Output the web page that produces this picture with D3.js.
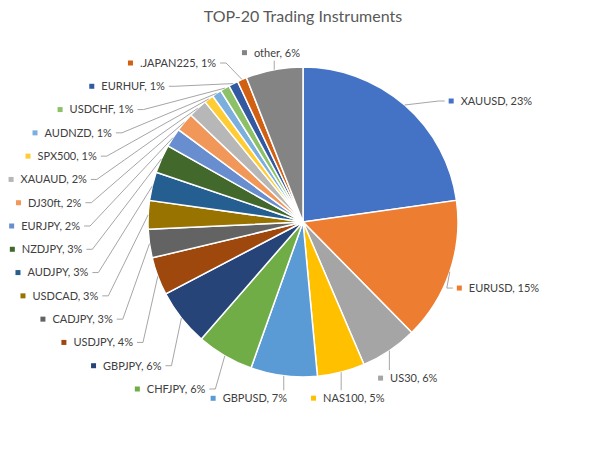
<!DOCTYPE html>
<html>
<head>
<meta charset="utf-8">
<script src="https://cdn.jsdelivr.net/npm/d3@7"></script>
<style>
  body { margin: 0; background: #fff; }
  text { font-family: Lato, "Open Sans", sans-serif; }
</style>
</head>
<body>
<div id="chart"></div>
<script>
"use strict";

// slices clockwise from 12 o'clock
var instruments = ["XAUUSD", "EURUSD", "US30", "NAS100", "GBPUSD", "CHFJPY", "GBPJPY",
                   "USDJPY", "CADJPY", "USDCAD", "AUDJPY", "NZDJPY", "EURJPY", "DJ30ft",
                   "XAUAUD", "SPX500", "AUDNZD", "USDCHF", "EURHUF", ".JAPAN225", "other"];
var shares = [23, 15, 6, 5, 7, 6, 6, 4, 3, 3, 3, 3, 2, 2, 2, 1, 1, 1, 1, 1, 6];
var sliceColors = ["#4472C4", "#ED7D31", "#A5A5A5", "#FFC000", "#5B9BD5", "#70AD47", "#264478",
                   "#9E480E", "#636363", "#997300", "#255E91", "#43682B", "#698ED0", "#F1975A",
                   "#B7B7B7", "#FFCD33", "#7CAFDD", "#8CC168", "#335AA1", "#D26012", "#848484"];

var width = 611, height = 471;
var cx = 303, cy = 222, radius = 155;
var markerSize = 5, markerGap = 7, boxH = 12;

var svg = d3.select("#chart").append("svg")
    .attr("width", width)
    .attr("height", height);

svg.append("text")
    .attr("x", cx)
    .attr("y", 22)
    .attr("text-anchor", "middle")
    .attr("font-size", 16)
    .attr("fill", "#595959")
    .text("TOP-20 Trading Instruments");

var g = svg.append("g")
    .attr("transform", "translate(" + cx + "," + cy + ")");

var data = instruments.map(function(name, i) {
  return {name: name, value: shares[i], color: sliceColors[i]};
});

var pie = d3.pie().sort(null).value(function(d) { return d.value; });
var arc = d3.arc().innerRadius(0).outerRadius(radius);
var arcs = pie(data);

g.selectAll(".slice")
    .data(arcs)
  .enter().append("path")
    .attr("class", "slice")
    .attr("d", arc)
    .attr("fill", function(d) { return d.data.color; })
    .attr("stroke", "#fff")
    .attr("stroke-width", 1.5);

arcs.forEach(function(d) {
  d.mid = (d.startAngle + d.endAngle) / 2;
  d.sin = Math.sin(d.mid);
  d.cos = Math.cos(d.mid);
  d.edge = [radius * d.sin, -radius * d.cos];
});

var leaderLayer = g.append("g");

// labels: marker square + text, measured so they can be placed
var labels = g.selectAll(".label")
    .data(arcs)
  .enter().append("g")
    .attr("class", "label");

labels.append("text")
    .attr("font-size", 11)
    .attr("fill", "#404040")
    .attr("dy", "0.35em")
    .text(function(d) { return d.data.name + ", " + d.data.value + "%"; });

labels.each(function(d) {
  d.tw = this.querySelector("text").getComputedTextLength();
  d.bw = markerSize + markerGap + d.tw;
});

// left side: a column of labels spread evenly, set on an ellipse round the pie
var leftSide = arcs.filter(function(d) { return d.sin < -0.3; })
    .sort(function(a, b) { return b.mid - a.mid; });
var colTop = 63 - cy, colBottom = 389 - cy;

leftSide.forEach(function(d, i) {
  var y = colTop + i * (colBottom - colTop) / (leftSide.length - 1);
  var b = y < 0 ? 172 : 185;
  var k = Math.max(0, 1 - (y / b) * (y / b));
  var xEnd = -220 * Math.sqrt(k) - 3;
  d.box = {x: xEnd - d.bw, y: y - boxH / 2, w: d.bw, h: boxH};
  d.leader = [[xEnd + 4, y], [xEnd + 10, y], d.edge];
});

// the rest: upper right sits level with its edge point,
// others are centred on the slice's ray just outside the pie
var others = arcs.filter(function(d) { return d.sin >= -0.3; });
others.forEach(function(d) {
  if (d.sin > 0.45 && d.cos > 0) {
    d.box = {x: d.edge[0] + 44, y: d.edge[1] - 4 - boxH / 2, w: d.bw, h: boxH};
  } else {
    var support = Math.abs(d.sin) * d.bw / 2 + Math.abs(d.cos) * boxH / 2;
    var dist = radius + 9 - 3 * d.cos + support;
    d.box = {x: dist * d.sin - d.bw / 2, y: -dist * d.cos - boxH / 2, w: d.bw, h: boxH};
  }
});

// bottom labels: push later ones left so they keep clear of the previous one
var bottom = others.filter(function(d) { return d.cos < -0.9; })
    .sort(function(a, b) { return a.mid - b.mid; });
for (var i = 1; i < bottom.length; i++) {
  var limit = bottom[i - 1].box.x - 24;
  if (bottom[i].box.x + bottom[i].box.w > limit) bottom[i].box.x = limit - bottom[i].box.w;
}

others.forEach(function(d) {
  var ex = d.edge[0], by = d.box.y + boxH / 2;
  if (ex >= d.box.x && ex <= d.box.x + d.box.w) {
    var yEnd = d.cos > 0 ? d.box.y + boxH + 2 : d.box.y - 2;
    d.leader = [d.edge, [ex, yEnd]];
  } else {
    var xEnd = d.sin > 0 ? d.box.x - 4 : d.box.x + d.box.w + 4;
    var stub = d.sin > 0 ? -6 : 6;
    d.leader = [d.edge, [xEnd + stub, by], [xEnd, by]];
  }
});

labels.select("text")
    .attr("x", function(d) { return d.box.x + markerSize + markerGap; })
    .attr("y", function(d) { return d.box.y + boxH / 2; });

labels.append("rect")
    .attr("x", function(d) { return d.box.x; })
    .attr("y", function(d) { return d.box.y + boxH / 2 - markerSize / 2; })
    .attr("width", markerSize)
    .attr("height", markerSize)
    .attr("fill", function(d) { return d.data.color; });

leaderLayer.selectAll("path")
    .data(arcs)
  .enter().append("path")
    .attr("d", function(d) { return d3.line()(d.leader); })
    .attr("fill", "none")
    .attr("stroke", "#A6A6A6")
    .attr("stroke-width", 1);
</script>
</body>
</html>
